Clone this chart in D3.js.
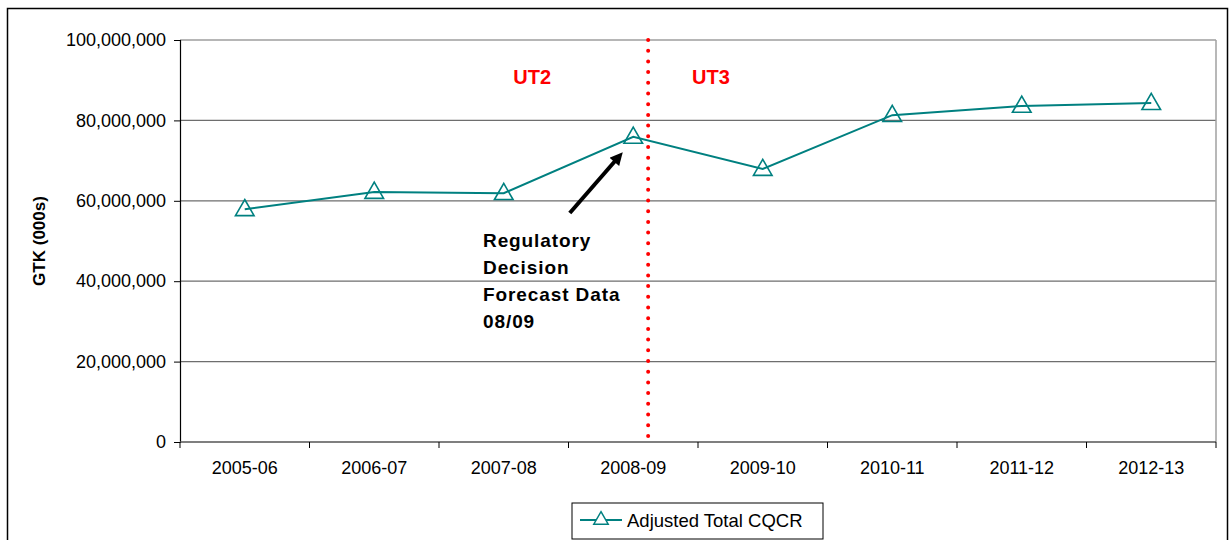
<!DOCTYPE html>
<html lang="en">
  <head>
    <meta charset="UTF-8" />
    <title>Adjusted Total CQCR</title>
    <script src="https://d3js.org/d3.v7.min.js"></script>
    <style>
      body { margin: 0; background: #fff; }
      text { font-family: "Liberation Sans", Arial, sans-serif; }
    </style>
  </head>
  <body>
    <script>
      // datos
      var years = ["2005-06", "2006-07", "2007-08", "2008-09", "2009-10", "2010-11", "2011-12", "2012-13"];
      var cqcr = [57900000, 62200000, 61900000, 75900000, 67900000, 81300000, 83600000, 84300000];
      var yTicks = [0, 20000000, 40000000, 60000000, 80000000, 100000000];
      var noteLines = ["Regulatory", "Decision", "Forecast Data", "08/09"];

      var W = 1231, H = 540;
      var m = { left: 180, right: 1216, top: 40, bottom: 442 };
      var fam = "'Liberation Sans', Arial, sans-serif";

      var svg = d3.select("body").append("svg").attr("width", W).attr("height", H);

      // marco exterior
      svg.append("rect")
        .attr("x", 7.5).attr("y", 8.5)
        .attr("width", 1220).attr("height", 540)
        .attr("fill", "none").attr("stroke", "#000").attr("stroke-width", 1.5);

      var x = d3.scaleBand().domain(years).range([m.left, m.right]);
      var y = d3.scaleLinear().domain([0, 100000000]).range([m.bottom, m.top]);

      // lineas de grilla
      svg.selectAll("line.grid")
        .data(yTicks.slice(1))
        .enter()
        .append("line")
        .attr("class", "grid")
        .attr("x1", m.left).attr("x2", m.right)
        .attr("y1", (d) => y(d)).attr("y2", (d) => y(d))
        .attr("stroke", "#6e6e6e").attr("stroke-width", 1.2);

      // borde derecho del area
      svg.append("line")
        .attr("x1", m.right).attr("x2", m.right)
        .attr("y1", m.top).attr("y2", m.bottom)
        .attr("stroke", "#a0a0a0").attr("stroke-width", 1.5);

      // eje y
      var yAxis = d3.axisLeft(y).tickValues(yTicks).tickSize(6).tickPadding(8)
        .tickFormat(d3.format(","));
      var gy = svg.append("g").attr("transform", "translate(" + m.left + ",0)").call(yAxis);
      gy.attr("font-size", null).attr("font-family", null);
      gy.select(".domain").attr("stroke", "#000").attr("stroke-width", 1.2);
      gy.selectAll(".tick line").attr("stroke", "#000");
      gy.selectAll(".tick text").style("font-size", "18px").attr("fill", "#000")
        .style("font-family", fam);

      // eje x
      var xAxis = d3.axisBottom(x).tickSize(0).tickPadding(19);
      var gx = svg.append("g").attr("transform", "translate(0," + m.bottom + ")").call(xAxis);
      gx.attr("font-size", null).attr("font-family", null);
      gx.select(".domain").remove();
      gx.selectAll(".tick text").style("font-size", "18px").attr("fill", "#000")
        .style("font-family", fam);
      svg.append("line")
        .attr("x1", m.left).attr("x2", m.right)
        .attr("y1", m.bottom).attr("y2", m.bottom)
        .attr("stroke", "#555").attr("stroke-width", 1.5);
      // marcas entre categorias
      svg.selectAll("line.xt")
        .data(d3.range(years.length + 1))
        .enter()
        .append("line")
        .attr("x1", (i) => m.left + i * x.step())
        .attr("x2", (i) => m.left + i * x.step())
        .attr("y1", m.bottom).attr("y2", m.bottom + 6)
        .attr("stroke", "#000");

      // titulo eje y
      svg.append("text")
        .attr("transform", "translate(45," + (m.top + m.bottom) / 2 + ") rotate(-90)")
        .attr("text-anchor", "middle")
        .style("font-size", "17px").attr("font-weight", "bold")
        .text("GTK (000s)");

      // linea vertical roja punteada
      var splitX = x("2008-09") + x.bandwidth() * 0.615;
      svg.append("line")
        .attr("x1", splitX).attr("x2", splitX)
        .attr("y1", m.top).attr("y2", m.bottom)
        .attr("stroke", "#ff0000").attr("stroke-width", 4)
        .attr("stroke-linecap", "round")
        .attr("stroke-dasharray", "0,10.7");

      svg.append("text")
        .attr("x", x("2007-08") + x.bandwidth() * 0.72).attr("y", 84)
        .attr("text-anchor", "middle")
        .style("font-size", "20px").attr("font-weight", "bold").attr("fill", "#ff0000")
        .text("UT2");
      svg.append("text")
        .attr("x", x("2009-10") + x.bandwidth() * 0.1).attr("y", 84)
        .attr("text-anchor", "middle")
        .style("font-size", "20px").attr("font-weight", "bold").attr("fill", "#ff0000")
        .text("UT3");

      // serie
      var teal = "#008080";
      var line = d3.line().x((d, i) => x(years[i]) + x.bandwidth() / 2).y((d) => y(d));
      svg.append("path")
        .datum(cqcr)
        .attr("d", line)
        .attr("fill", "none").attr("stroke", teal).attr("stroke-width", 2);

      var tri = d3.symbol().type(d3.symbolTriangle).size(150);
      svg.selectAll("path.mk")
        .data(cqcr)
        .enter()
        .append("path")
        .attr("class", "mk")
        .attr("d", tri)
        .attr("transform", (d, i) => "translate(" + (x(years[i]) + x.bandwidth() / 2) + "," + (y(d) + 1) + ")")
        .attr("fill", "none").attr("stroke", teal).attr("stroke-width", 1.6);

      // flecha de anotacion
      var ax1 = x("2008-09") + x.bandwidth() * 0.01, ay1 = 213;
      var ax2 = x("2008-09") + x.bandwidth() * 0.38, ay2 = 158;
      svg.append("defs").append("marker")
        .attr("id", "ah").attr("viewBox", "0 0 10 10")
        .attr("refX", 4).attr("refY", 5)
        .attr("markerWidth", 3.6).attr("markerHeight", 3.2)
        .attr("orient", "auto")
        .append("path").attr("d", "M0,0 L10,5 L0,10 z").attr("fill", "#000");
      svg.append("line")
        .attr("x1", ax1).attr("y1", ay1).attr("x2", ax2).attr("y2", ay2)
        .attr("stroke", "#000").attr("stroke-width", 4)
        .attr("marker-end", "url(#ah)");

      svg.selectAll("text.note")
        .data(noteLines)
        .enter()
        .append("text")
        .attr("class", "note")
        .attr("x", x("2007-08") + x.bandwidth() * 0.34)
        .attr("y", (d, i) => 247 + i * 27)
        .style("font-size", "19px").attr("font-weight", "bold")
        .attr("letter-spacing", 0.9)
        .text((d) => d);

      // leyenda
      var lg = svg.append("g").attr("transform", "translate(572,503)");
      lg.append("rect").attr("width", 251).attr("height", 36)
        .attr("fill", "#fff").attr("stroke", "#000").attr("stroke-width", 1);
      lg.append("line").attr("x1", 8).attr("x2", 50).attr("y1", 17).attr("y2", 17)
        .attr("stroke", teal).attr("stroke-width", 2);
      lg.append("path").attr("d", d3.symbol().type(d3.symbolTriangle).size(90))
        .attr("transform", "translate(29,17)")
        .attr("fill", "#fff").attr("stroke", teal).attr("stroke-width", 1.5);
      lg.append("text").attr("x", 55).attr("y", 24)
        .style("font-size", "18.5px").text("Adjusted Total CQCR");
    </script>
  </body>
</html>
